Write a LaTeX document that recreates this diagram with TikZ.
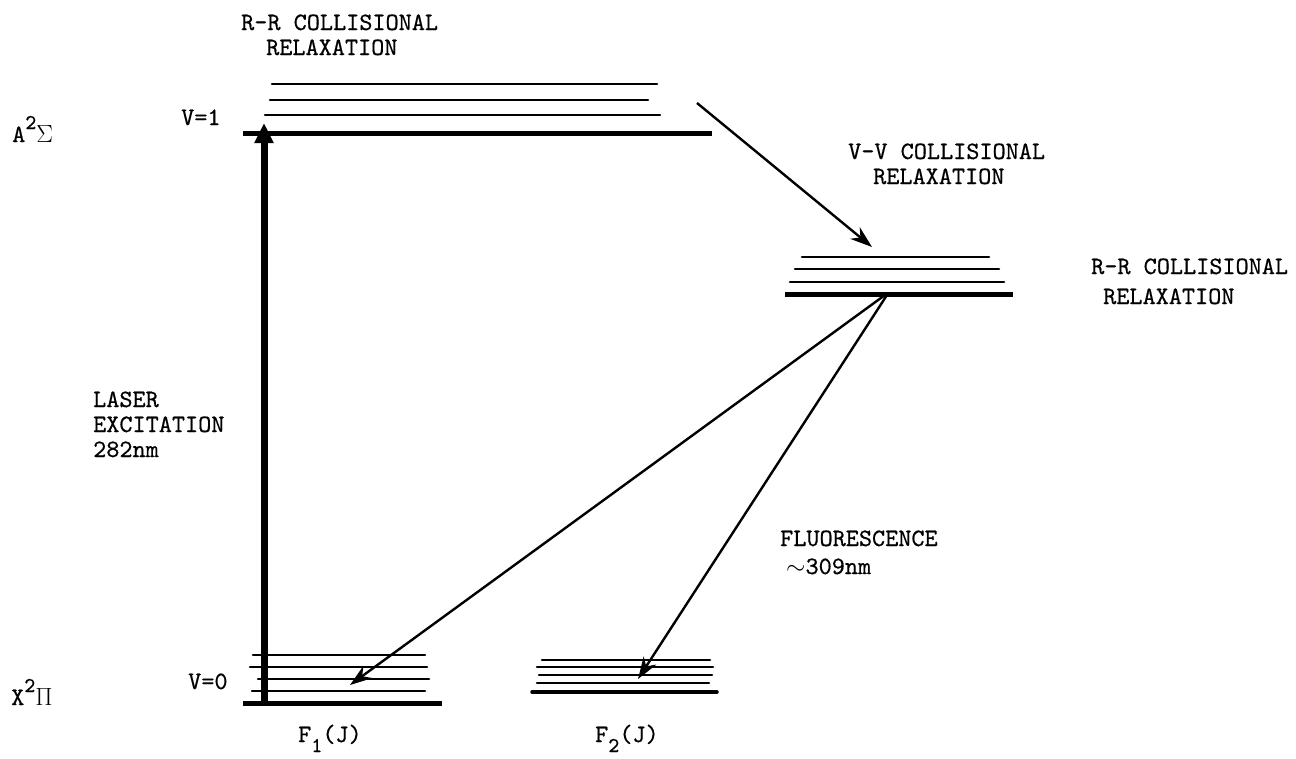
\documentclass[tikz,border=0pt]{standalone}
\usepackage{fontspec}
\setmonofont{lmmono10-regular.otf}[FakeBold=0.5]
\usetikzlibrary{arrows.meta}

\tikzset{
  lbl/.style={font=\fontsize{25}{25}\selectfont\ttfamily, inner sep=0pt, anchor=base west, align=left},
  level/.style={line width=2.6pt, line cap=round},
  ground/.style={line width=5pt},
  ray/.style={line width=2.4pt, -{Stealth[length=22pt, width=15pt, inset=7pt]}},
  pump/.style={line width=7pt, -{Triangle[length=20pt, width=18pt]}},
}

\begin{document}
\begin{tikzpicture}[x=1pt, y=-1pt]
  \useasboundingbox (0,0) rectangle (1296,758);

  % ---- A state, v=1 : rotational manifold ----
  \coordinate (a3L) at (272,84);  \coordinate (a3R) at (657,84);
  \coordinate (a2L) at (270,100); \coordinate (a2R) at (648,100);
  \coordinate (a1L) at (265,115); \coordinate (a1R) at (660,115);
  \coordinate (a0L) at (243,133); \coordinate (a0R) at (712,133);
  \draw[level] (a3L) -- (a3R);
  \draw[level] (a2L) -- (a2R);
  \draw[level] (a1L) -- (a1R);
  \draw[ground] (a0L) -- (a0R);

  % ---- relaxed manifold ----
  \coordinate (b3L) at (802,257); \coordinate (b3R) at (989,257);
  \coordinate (b2L) at (795,269); \coordinate (b2R) at (999,269);
  \coordinate (b1L) at (790,282); \coordinate (b1R) at (1004,282);
  \coordinate (b0L) at (785,294); \coordinate (b0R) at (1013,294);
  \draw[level] (b3L) -- (b3R);
  \draw[level] (b2L) -- (b2R);
  \draw[level] (b1L) -- (b1R);
  \draw[ground] (b0L) -- (b0R);

  % ---- X state, v=0, F1 manifold ----
  \coordinate (c4L) at (253,655); \coordinate (c4R) at (425,655);
  \coordinate (c3L) at (250,667); \coordinate (c3R) at (427,667);
  \coordinate (c2L) at (258,679); \coordinate (c2R) at (429,679);
  \coordinate (c1L) at (252,691); \coordinate (c1R) at (425,691);
  \coordinate (c0L) at (243,703); \coordinate (c0R) at (442,703);
  \draw[level] (c4L) -- (c4R);
  \draw[level] (c3L) -- (c3R);
  \draw[level] (c2L) -- (c2R);
  \draw[level] (c1L) -- (c1R);
  \draw[ground] (c0L) -- (c0R);

  % ---- X state, F2 manifold ----
  \coordinate (d4L) at (542,660); \coordinate (d4R) at (710,660);
  \coordinate (d3L) at (537,667); \coordinate (d3R) at (713,667);
  \coordinate (d2L) at (539,675); \coordinate (d2R) at (712,675);
  \coordinate (d1L) at (537,683); \coordinate (d1R) at (709,683);
  \coordinate (d0L) at (532,692); \coordinate (d0R) at (717,692);
  \draw[level] (d4L) -- (d4R);
  \draw[level] (d3L) -- (d3R);
  \draw[level] (d2L) -- (d2R);
  \draw[level] (d1L) -- (d1R);
  \draw[line width=3.5pt, line cap=round] (d0L) -- (d0R);

  % ---- transitions ----
  \coordinate (pumpFrom) at (264,703);
  \coordinate (pumpTo)   at (264,123);
  \draw[pump] (pumpFrom) -- (pumpTo);

  \coordinate (vvFrom) at (697,103);
  \coordinate (vvTo)   at (872,247);
  \draw[ray] (vvFrom) -- (vvTo);

  \coordinate (emitA) at (887,295);
  \coordinate (emitB) at (885,295);
  \coordinate (f1To)  at (350,685);
  \coordinate (f2To)  at (638,679);
  \draw[ray] (emitB) -- (f1To);
  \draw[ray] (emitA) -- (f2To);

  % ---- labels (anchored on the baseline of their last line) ----
  \node[lbl] (rrTop) at (241,55) {R-R COLLISIONAL\\\hspace*{25pt}RELAXATION};
  \node[lbl] (vv) at (848,184) {V-V COLLISIONAL\\\hspace*{25pt}RELAXATION};
  \node[lbl] (rrRight) at (1091,304) {R-R COLLISIONAL\\[5pt]\hspace*{12pt}RELAXATION};
  \node[lbl] (laser) at (93,457) {LASER\\EXCITATION\\282nm};
  \node[lbl] (fluor) at (780,574) {FLUORESCENCE\\[3pt]\hspace*{6pt}$\sim$309nm};
  \node[lbl] (v1) at (181,125) {V=1};
  \node[lbl] (v0) at (188,689) {V=0};
  \node[lbl] (upper) at (12,142) {A\raisebox{13pt}{\fontsize{21}{21}\selectfont 2}$\Sigma$};
  \node[lbl] (lower) at (11,705) {X\raisebox{13pt}{\fontsize{21}{21}\selectfont 2}$\Pi$};
  \node[lbl] (f1) at (298,742) {F\raisebox{-10pt}{\fontsize{21}{21}\selectfont 1}(J)};
  \node[lbl] (f2) at (595,742) {F\raisebox{-10pt}{\fontsize{21}{21}\selectfont 2}(J)};
\end{tikzpicture}
\end{document}
